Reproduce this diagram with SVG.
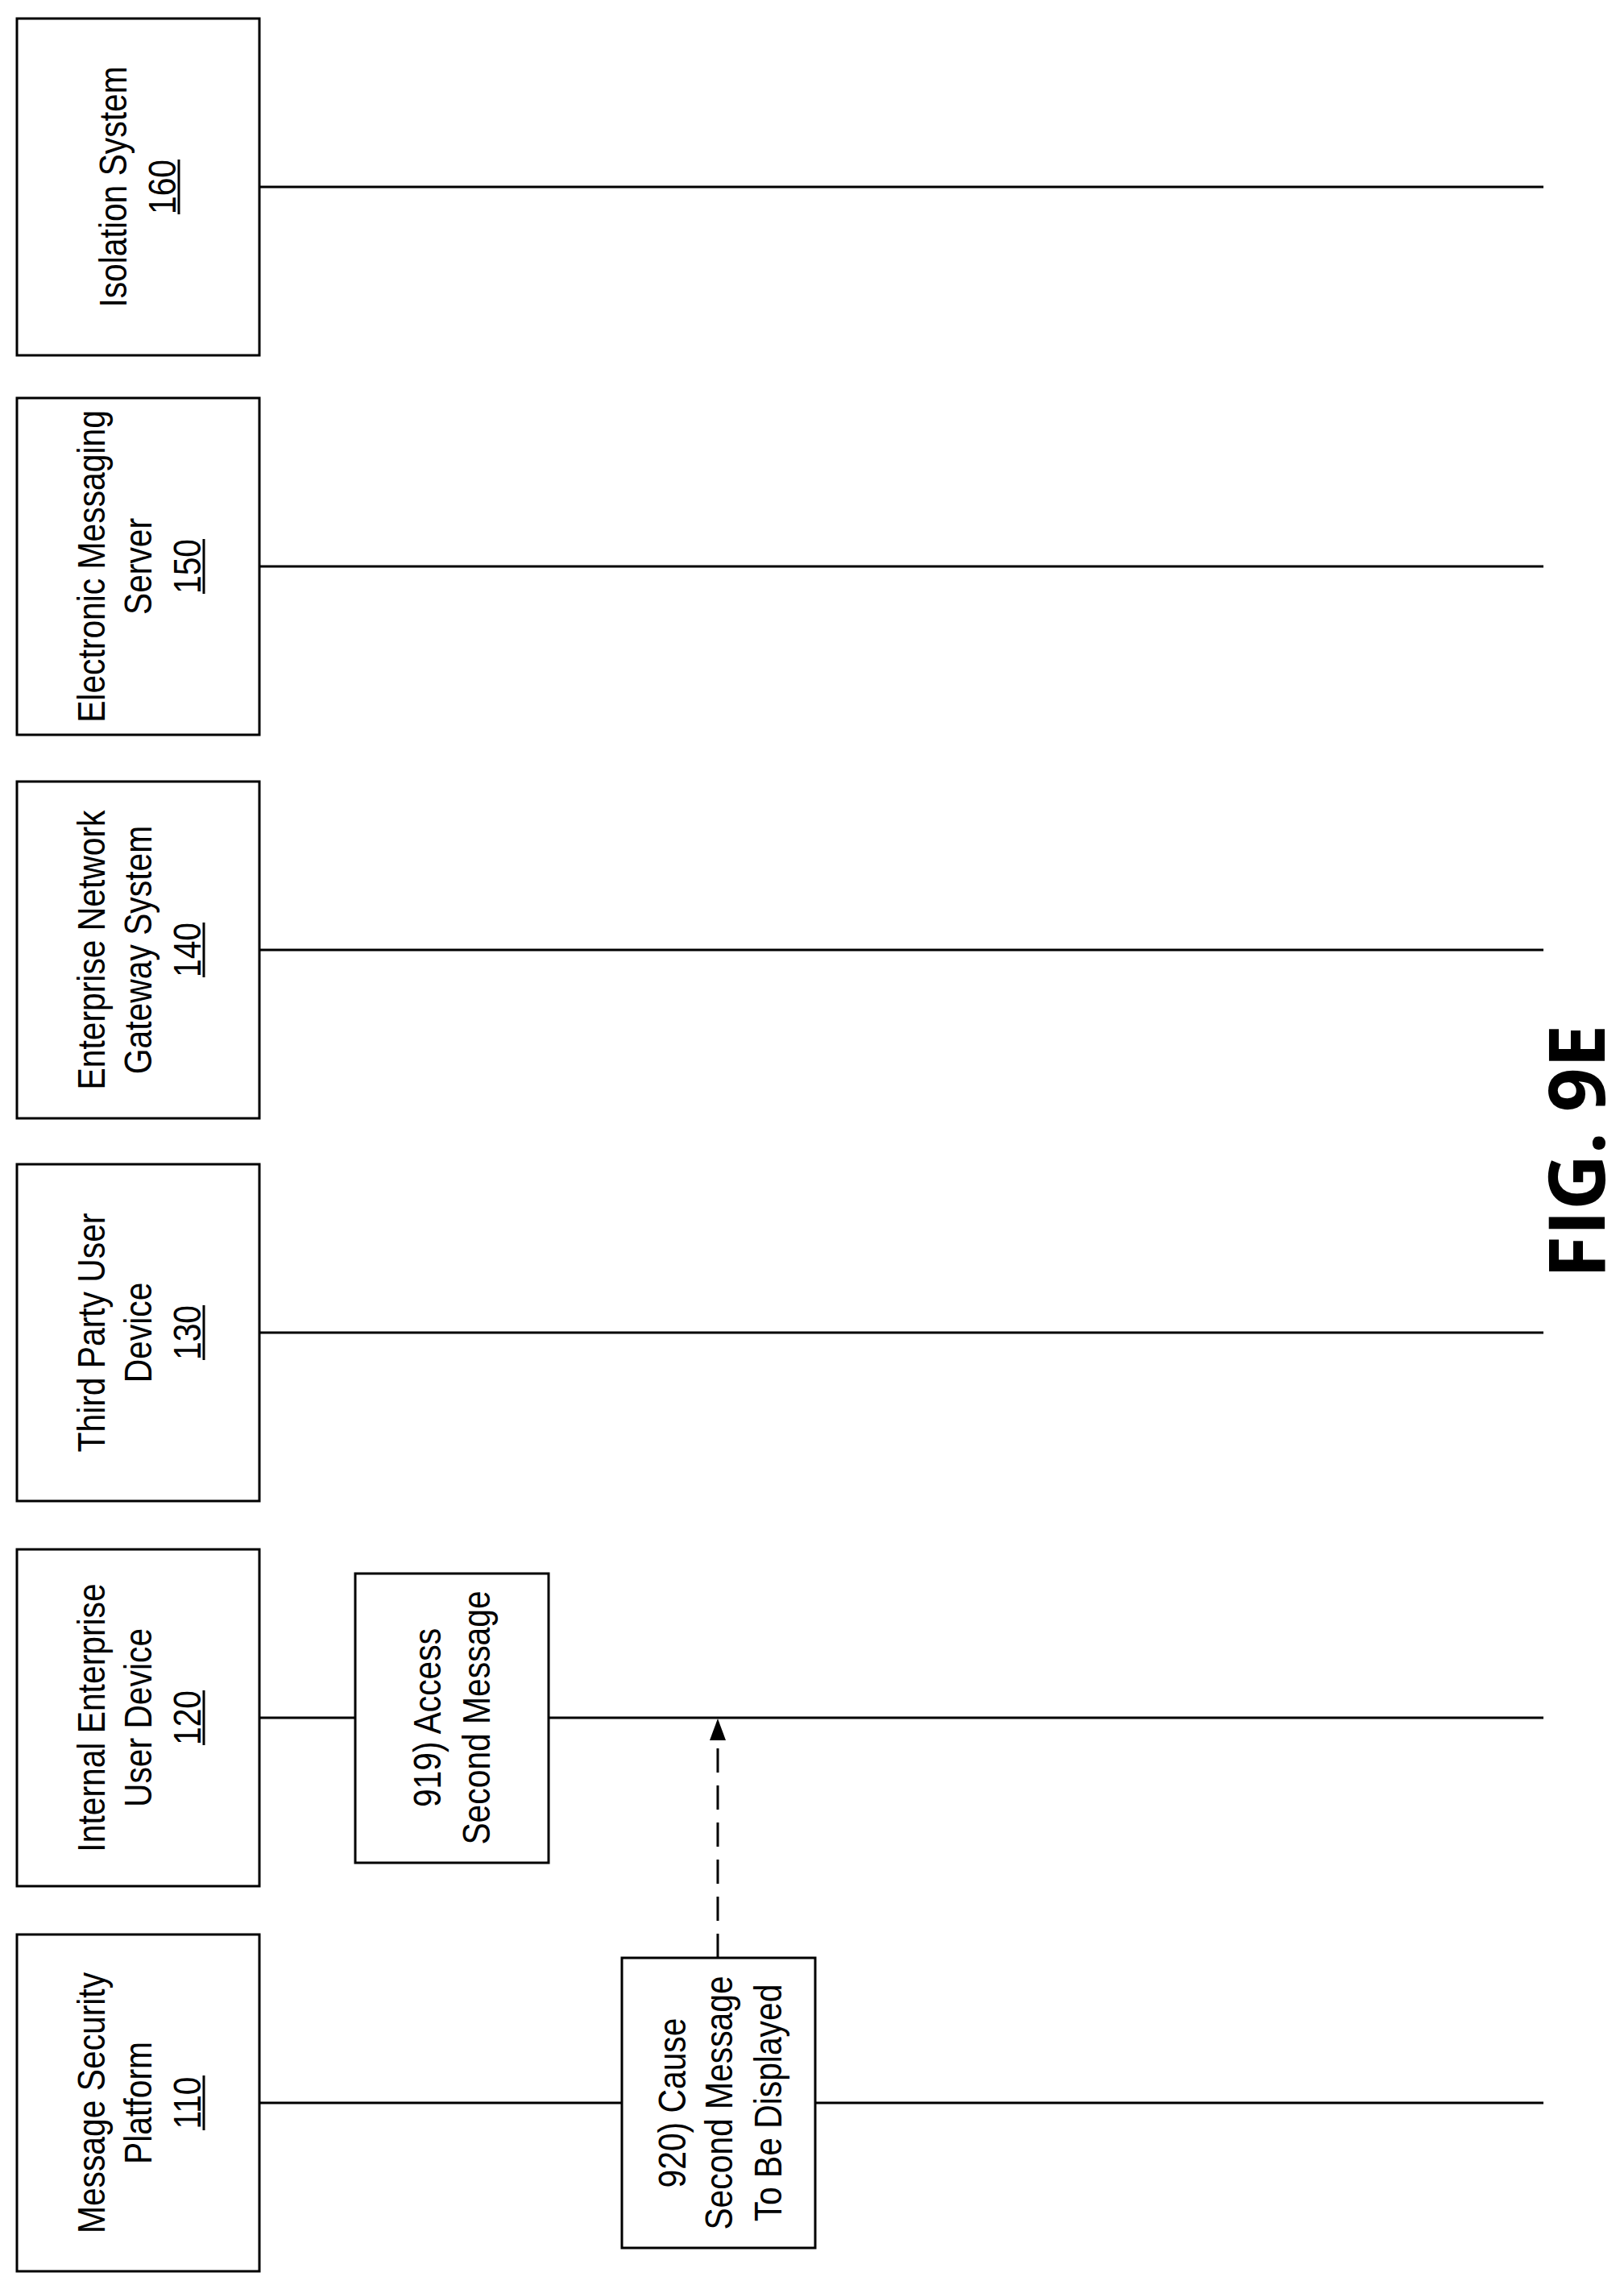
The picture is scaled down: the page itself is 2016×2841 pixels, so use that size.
<svg xmlns="http://www.w3.org/2000/svg" width="2016" height="2841" viewBox="0 0 2016 2841">
<style>
rect{fill:#fff;stroke:#000;stroke-width:3}
line{stroke:#000;stroke-width:3}
text{font-family:"Liberation Sans",Arial,sans-serif;font-size:48px;text-anchor:middle;fill:#000}
.fig{font-family:"Open Sans","DejaVu Sans",sans-serif;font-weight:bold;font-size:96px}
</style>
<defs>
<marker id="ah" markerWidth="10" markerHeight="10" refX="9" refY="5" orient="auto" markerUnits="userSpaceOnUse" viewBox="0 0 10 10">
<path d="M0,0 L10,5 L0,10 z" fill="#000"/>
</marker>
</defs>
<g id="connectors">
<line x1="322" y1="232" x2="1916" y2="232"/>
<line x1="322" y1="703" x2="1916" y2="703"/>
<line x1="322" y1="1179" x2="1916" y2="1179"/>
<line x1="322" y1="1654" x2="1916" y2="1654"/>
<line x1="322" y1="2132" x2="1916" y2="2132"/>
<line x1="322" y1="2610" x2="1916" y2="2610"/>
<path d="M891,2430 L891,2150" stroke="#000" stroke-width="3" fill="none" stroke-dasharray="30,16"/>
<path d="M891,2133 L881,2160 L901,2160 z" fill="#000"/>
</g>
<g id="n160">
<rect x="21" y="23" width="301" height="418"/>
<g transform="translate(171,232) rotate(-90) scale(0.85,1)">
<text x="0" y="-14">Isolation System</text>
<text x="0" y="47">160</text>
<line x1="-40" y1="51" x2="40" y2="51"/>
</g>
</g>
<g id="n150">
<rect x="21" y="494" width="301" height="418"/>
<g transform="translate(171,703) rotate(-90) scale(0.85,1)">
<text x="0" y="-41">Electronic Messaging</text>
<text x="0" y="17">Server</text>
<text x="0" y="78">150</text>
<line x1="-40" y1="82" x2="40" y2="82"/>
</g>
</g>
<g id="n140">
<rect x="21" y="970" width="301" height="418"/>
<g transform="translate(171,1179) rotate(-90) scale(0.85,1)">
<text x="0" y="-41">Enterprise Network</text>
<text x="0" y="17">Gateway System</text>
<text x="0" y="78">140</text>
<line x1="-40" y1="82" x2="40" y2="82"/>
</g>
</g>
<g id="n130">
<rect x="21" y="1445" width="301" height="418"/>
<g transform="translate(171,1654) rotate(-90) scale(0.85,1)">
<text x="0" y="-41">Third Party User</text>
<text x="0" y="17">Device</text>
<text x="0" y="78">130</text>
<line x1="-40" y1="82" x2="40" y2="82"/>
</g>
</g>
<g id="n120">
<rect x="21" y="1923" width="301" height="418"/>
<g transform="translate(171,2132) rotate(-90) scale(0.85,1)">
<text x="0" y="-41">Internal Enterprise</text>
<text x="0" y="17">User Device</text>
<text x="0" y="78">120</text>
<line x1="-40" y1="82" x2="40" y2="82"/>
</g>
</g>
<g id="n110">
<rect x="21" y="2401" width="301" height="418"/>
<g transform="translate(171,2610) rotate(-90) scale(0.85,1)">
<text x="0" y="-41">Message Security</text>
<text x="0" y="17">Platform</text>
<text x="0" y="78">110</text>
<line x1="-40" y1="82" x2="40" y2="82"/>
</g>
</g>
<g id="s919">
<rect x="441" y="1953" width="240" height="359"/>
<g transform="translate(561,2132) rotate(-90) scale(0.85,1)">
<text x="0" y="-14">919) Access</text>
<text x="0" y="47">Second Message</text>
</g>
</g>
<g id="s920">
<rect x="772" y="2430" width="240" height="360"/>
<g transform="translate(892,2610) rotate(-90) scale(0.85,1)">
<text x="0" y="-41">920) Cause</text>
<text x="0" y="17">Second Message</text>
<text x="0" y="78">To Be Displayed</text>
</g>
</g>
<text class="fig" transform="translate(1992,1429) rotate(-90)">FIG. 9E</text>
</svg>
